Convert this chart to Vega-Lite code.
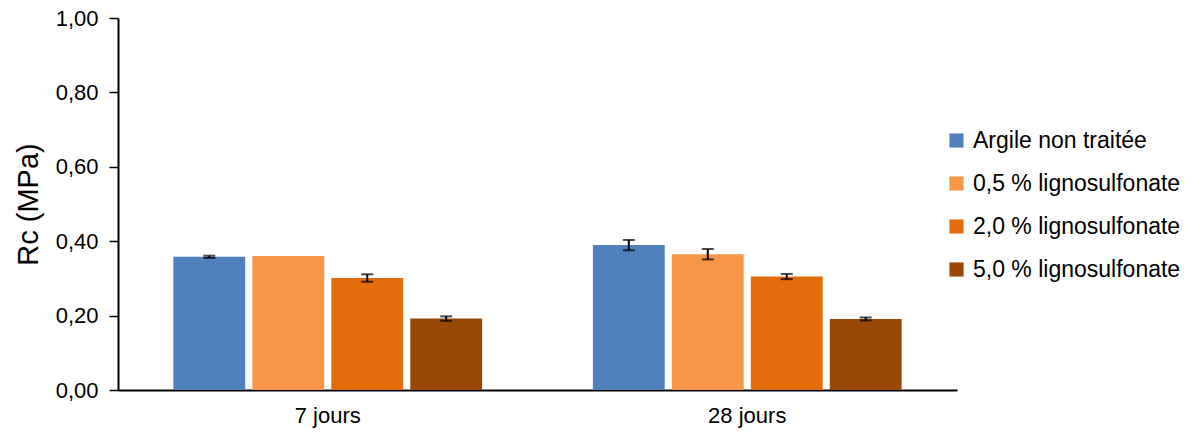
{
  "$schema": "https://vega.github.io/schema/vega-lite/v6.json",
  "width": 839,
  "height": 372,
  "autosize": "none",
  "padding": {"left": 118, "top": 18, "right": 239, "bottom": 44},
  "background": "white",
  "config": {
    "view": {"stroke": null},
    "font": "Liberation Sans",
    "axis": {"labelFont": "Liberation Sans", "titleFont": "Liberation Sans", "labelColor": "#000000", "titleColor": "#000000"}
  },
  "data": {
    "values": [
      {"periode": "7 jours", "serie": "Argile non traitée", "rc": 0.358, "lo": 0.355, "hi": 0.361},
      {"periode": "7 jours", "serie": "0,5 % lignosulfonate", "rc": 0.360, "lo": 0.360, "hi": 0.360},
      {"periode": "7 jours", "serie": "2,0 % lignosulfonate", "rc": 0.301, "lo": 0.291, "hi": 0.311},
      {"periode": "7 jours", "serie": "5,0 % lignosulfonate", "rc": 0.192, "lo": 0.186, "hi": 0.198},
      {"periode": "28 jours", "serie": "Argile non traitée", "rc": 0.390, "lo": 0.376, "hi": 0.403},
      {"periode": "28 jours", "serie": "0,5 % lignosulfonate", "rc": 0.365, "lo": 0.351, "hi": 0.379},
      {"periode": "28 jours", "serie": "2,0 % lignosulfonate", "rc": 0.305, "lo": 0.298, "hi": 0.312},
      {"periode": "28 jours", "serie": "5,0 % lignosulfonate", "rc": 0.191, "lo": 0.187, "hi": 0.195}
    ]
  },
  "encoding": {
    "x": {
      "field": "periode", "type": "nominal", "sort": ["7 jours", "28 jours"],
      "scale": {"paddingInner": 0.264, "paddingOuter": 0.132},
      "axis": {"title": null, "labelAngle": 0, "labelFontSize": 22, "labelPadding": 15, "ticks": false, "domainColor": "#000000", "domainWidth": 2}
    },
    "xOffset": {
      "field": "serie", "type": "nominal",
      "sort": ["Argile non traitée", "0,5 % lignosulfonate", "2,0 % lignosulfonate", "5,0 % lignosulfonate"],
      "scale": {"paddingInner": 0.09, "paddingOuter": 0}
    }
  },
  "layer": [
    {
      "mark": {"type": "bar"},
      "encoding": {
        "y": {
          "field": "rc", "type": "quantitative",
          "scale": {"domain": [0, 1]},
          "axis": {
            "title": "Rc (MPa)", "titleFontSize": 29, "titleFontWeight": "normal", "titlePadding": 12,
            "values": [0, 0.2, 0.4, 0.6, 0.8, 1.0],
            "labelExpr": "replace(format(datum.value, '.2f'), '.', ',')",
            "labelFontSize": 22, "labelPadding": 11,
            "grid": false, "tickSize": 9, "tickColor": "#000000", "tickWidth": 1.5,
            "domainColor": "#000000", "domainWidth": 2
          }
        },
        "color": {
          "field": "serie", "type": "nominal",
          "sort": ["Argile non traitée", "0,5 % lignosulfonate", "2,0 % lignosulfonate", "5,0 % lignosulfonate"],
          "scale": {"range": ["#4F81BD", "#F79646", "#E46C0A", "#984807"]},
          "legend": {
            "title": null, "orient": "none", "legendX": 827, "legendY": 111,
            "symbolType": "square", "symbolSize": 200, "symbolStrokeWidth": 0,
            "labelFontSize": 23, "labelFont": "Liberation Sans", "labelColor": "#000000",
            "rowPadding": 19, "labelOffset": 5, "labelLimit": 300
          }
        }
      }
    },
    {
      "transform": [{"filter": "datum.hi > datum.lo"}],
      "mark": {"type": "rule", "color": "#000000", "strokeWidth": 2},
      "encoding": {
        "y": {"field": "lo", "type": "quantitative"},
        "y2": {"field": "hi"}
      }
    },
    {
      "transform": [{"filter": "datum.hi > datum.lo"}],
      "mark": {"type": "tick", "color": "#000000", "thickness": 2, "size": 12},
      "encoding": {
        "y": {"field": "lo", "type": "quantitative"}
      }
    },
    {
      "transform": [{"filter": "datum.hi > datum.lo"}],
      "mark": {"type": "tick", "color": "#000000", "thickness": 2, "size": 12},
      "encoding": {
        "y": {"field": "hi", "type": "quantitative"}
      }
    }
  ]
}
